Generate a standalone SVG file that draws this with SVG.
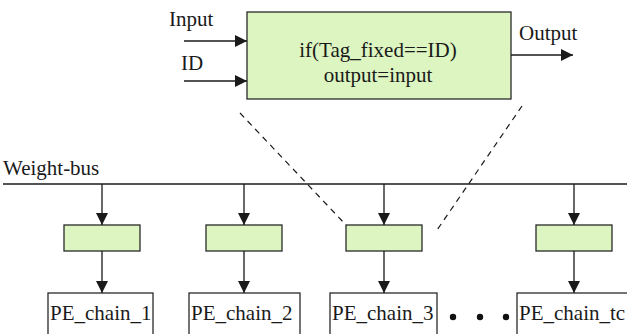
<svg xmlns="http://www.w3.org/2000/svg" width="627" height="334" viewBox="0 0 627 334">
  <defs>
    <marker id="arrow" viewBox="0 0 12 12" refX="12" refY="6" markerWidth="12" markerHeight="12" markerUnits="userSpaceOnUse" orient="auto">
      <path d="M0,0 L12,6 L0,12 Z" fill="#1a1a1a"/>
    </marker>
  </defs>
  <style>
    text { font-family: "Liberation Serif", "Times New Roman", serif; font-size: 21px; fill: #1a1a1a; }
    .mid { text-anchor: middle; }
    .line { stroke: #1a1a1a; stroke-width: 1.3; fill: none; }
    .dash { stroke: #1a1a1a; stroke-width: 1.2; stroke-dasharray: 6 5; fill: none; }
    .tag { fill: #dcf5c1; stroke: #2a2a2a; stroke-width: 1.3; }
    .pe { fill: #ffffff; stroke: #2a2a2a; stroke-width: 1.3; }
    .dot { fill: #111111; }
  </style>
  <rect width="627" height="334" fill="#ffffff"/>

  <g font-family="'Liberation Serif', 'Times New Roman', serif" font-size="21">
  <!-- enlarged view of a tag filter -->
  <g id="filter-detail">
    <rect class="tag" x="247" y="12" width="264" height="87"/>
    <text class="mid" x="378" y="57">if(Tag_fixed==ID)</text>
    <text class="mid" x="378" y="82">output=input</text>
  </g>
  <g id="label-input"><text x="169" y="26">Input</text></g>
  <g id="label-id"><text x="181" y="70">ID</text></g>
  <g id="label-output"><text x="519" y="40">Output</text></g>
  <g id="label-bus"><text x="3" y="175">Weight-bus</text></g>

  <!-- tag filters on the bus -->
  <g id="filter-1"><rect class="tag" x="64" y="225" width="76" height="26"/></g>
  <g id="filter-2"><rect class="tag" x="206" y="225" width="76" height="26"/></g>
  <g id="filter-3"><rect class="tag" x="346" y="225" width="76" height="26"/></g>
  <g id="filter-4"><rect class="tag" x="536" y="225" width="76" height="26"/></g>

  <!-- processing element chains -->
  <g id="pe-chain-1">
    <rect class="pe" x="48" y="293" width="105" height="50"/>
    <text x="50" y="320">PE_chain_1</text>
  </g>
  <g id="pe-chain-2">
    <rect class="pe" x="189" y="293" width="111" height="50"/>
    <text x="191" y="320">PE_chain_2</text>
  </g>
  <g id="pe-chain-3">
    <rect class="pe" x="330" y="293" width="107" height="50"/>
    <text x="332" y="320">PE_chain_3</text>
  </g>
  <g id="pe-chain-total">
    <rect class="pe" x="517" y="293" width="130" height="50"/>
    <text x="519" y="320">PE_chain_tc</text>
  </g>
  </g>
  <g id="ellipsis">
    <circle class="dot" cx="453" cy="317" r="3.2"/>
    <circle class="dot" cx="480" cy="317" r="3.2"/>
    <circle class="dot" cx="506" cy="317" r="3.2"/>
  </g>

  <g id="connectors">
    <line class="line" x1="184" y1="41" x2="247" y2="41" marker-end="url(#arrow)"/>
    <line class="line" x1="184" y1="81" x2="247" y2="81" marker-end="url(#arrow)"/>
    <line class="line" x1="511" y1="55" x2="573" y2="55" marker-end="url(#arrow)"/>
    <line class="line" x1="3" y1="184" x2="627" y2="184"/>
    <line class="line" x1="102" y1="184" x2="102" y2="225" marker-end="url(#arrow)"/>
    <line class="line" x1="244" y1="184" x2="244" y2="225" marker-end="url(#arrow)"/>
    <line class="line" x1="384" y1="184" x2="384" y2="225" marker-end="url(#arrow)"/>
    <line class="line" x1="574" y1="184" x2="574" y2="225" marker-end="url(#arrow)"/>
    <line class="line" x1="102" y1="251" x2="102" y2="293" marker-end="url(#arrow)"/>
    <line class="line" x1="244" y1="251" x2="244" y2="293" marker-end="url(#arrow)"/>
    <line class="line" x1="384" y1="251" x2="384" y2="293" marker-end="url(#arrow)"/>
    <line class="line" x1="574" y1="251" x2="574" y2="293" marker-end="url(#arrow)"/>
    <line class="dash" x1="240" y1="113" x2="346" y2="225"/>
    <line class="dash" x1="522" y1="106" x2="435" y2="233"/>
  </g>
</svg>
